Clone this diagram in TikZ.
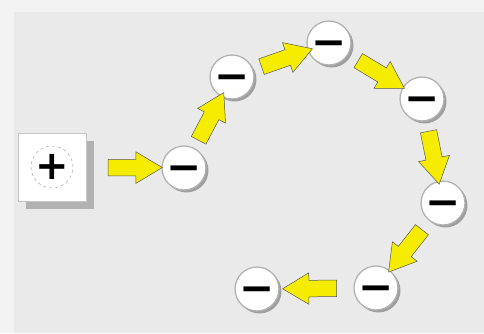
\documentclass[tikz,border=0pt]{standalone}
\usepackage{fontspec}
\newfontfamily\symfont{DejaVu Sans}
\usetikzlibrary{shapes.arrows,shadows,calc}
\definecolor{bgray}{HTML}{EAEAEA}
\definecolor{arrowyellow}{HTML}{F5EC00}
\tikzset{
  ion/.style={circle, draw=gray!60, line width=1.3pt, fill=white, minimum size=37pt, inner sep=0pt,
    font=\symfont\bfseries\fontsize{42}{42}\selectfont, text height=26.5pt, text depth=0pt,
    drop shadow={shadow xshift=2.5pt, shadow yshift=-2.5pt, fill=gray!75, opacity=1}},
  flow/.style={single arrow, fill=arrowyellow, draw=black!65, line width=0.5pt,
    minimum height=54pt, inner sep=8pt, single arrow head extend=7.5pt,
    single arrow tip angle=62},
  plusbox/.style={rectangle, draw=gray!45, line width=0.6pt, fill=white, minimum size=68pt,
    drop shadow={shadow xshift=8pt, shadow yshift=-8pt, fill=gray!60, opacity=1}},
  plusring/.style={circle, draw=gray!60, dashed, line width=0.6pt, minimum size=42pt, inner sep=0pt,
    font=\symfont\bfseries\fontsize{40}{40}\selectfont, text height=25pt, text depth=0pt}
}
\newcommand\flowarrow[2]{%
  \path let \p1=(#1), \p2=(#2), \n1={atan2(\y2-\y1,\x2-\x1)} in
    node[flow, rotate=\n1] at ($(#1)!0.5!(#2)$) {};}
\begin{document}
\begin{tikzpicture}[x=1pt,y=-1pt]
  \fill[white!40!bgray] (0,0) rectangle (484,333);
  \fill[bgray] (14,12) rectangle (484,333);
  \useasboundingbox (0,0) rectangle (484,333);
  \node[plusbox] (box) at (52,167) {};
  \node[plusring] (plus) at (box.center) {+};
  \node[ion] (c1) at (184,168) {−};
  \node[ion] (c2) at (232,77) {−};
  \node[ion] (c3) at (329,43) {−};
  \node[ion] (c4) at (422,99) {−};
  \node[ion] (c5) at (443,203) {−};
  \node[ion] (c6) at (376,288) {−};
  \node[ion] (c7) at (257,289) {−};
  \path let \p1=(box.east), \p2=(c1.west) in node[flow] (a0) at ($(\p1)!0.56!(\p2)$) {};
  \flowarrow{c1}{c2}
  \flowarrow{c2}{c3}
  \flowarrow{c3}{c4}
  \flowarrow{c4}{c5}
  \flowarrow{c5}{c6}
  \flowarrow{c6}{c7}
\end{tikzpicture}
\end{document}
